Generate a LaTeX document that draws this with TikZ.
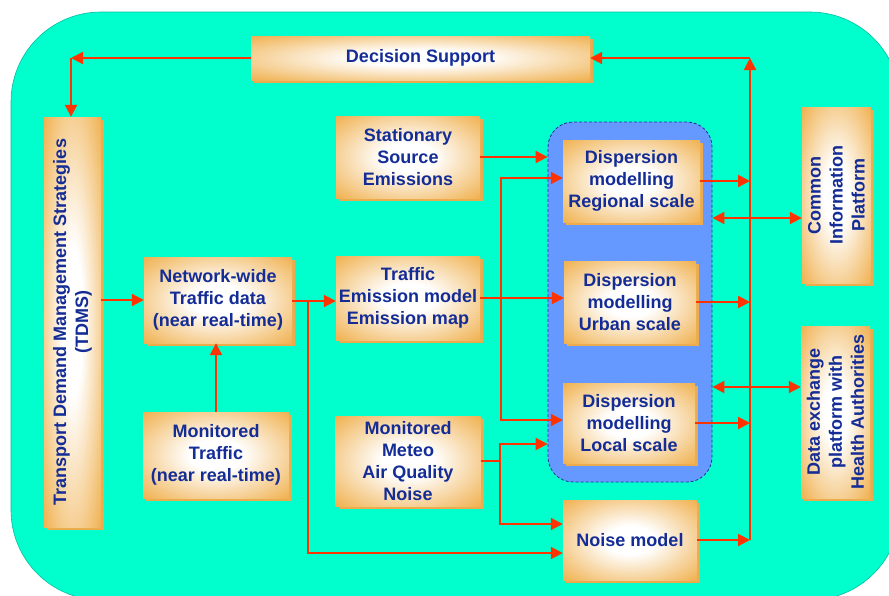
\documentclass[tikz,border=0pt]{standalone}
\usepackage{fontspec}
\setmainfont{Liberation Sans}
\usetikzlibrary{arrows.meta,shadows,calc}
\definecolor{bgcol}{RGB}{0,255,204}
\definecolor{bgline}{RGB}{0,190,165}
\definecolor{boxor}{RGB}{240,178,82}
\definecolor{boxsh}{RGB}{236,172,78}
\definecolor{txtblue}{RGB}{20,45,150}
\definecolor{arrowred}{RGB}{255,51,0}
\definecolor{grpblue}{RGB}{102,153,255}
\definecolor{grpline}{RGB}{30,50,150}
\pgfdeclareradialshading{glow}{\pgfpoint{0bp}{0bp}}{color(0bp)=(white); color(9bp)=(white); color(35bp)=(boxor); color(50bp)=(boxor)}
\begin{document}
\begin{tikzpicture}[x=1pt,y=-1pt,
  box/.style={shade, shading=glow, draw=none, text=txtblue,
    font=\fontsize{18}{22}\selectfont\bfseries, align=center, inner sep=0pt,
    drop shadow={shadow xshift=3pt,shadow yshift=-3pt,fill=boxsh,opacity=1}},
  grpbox/.style={fill=grpblue, draw=grpline, line width=0.8pt, dash pattern=on 3pt off 2pt, rounded corners=25pt},
  arrow/.style={draw=arrowred, line width=2pt, -{Triangle[length=12pt,width=12pt]}},
  darrow/.style={draw=arrowred, line width=2pt, {Triangle[length=12pt,width=12pt]}-{Triangle[length=12pt,width=12pt]}}
]
\useasboundingbox (0,0) rectangle (889,595);
\clip (0,0) rectangle (889,595);
\draw[fill=bgcol, draw=bgline, line width=0.6pt, rounded corners=90pt] (11,12) rectangle (900,600);

\node[grpbox, minimum width=164pt, minimum height=360pt] (grp) at (630,302) {};

\node[box, minimum width=339pt, minimum height=44pt] (ds) at (420.5,58) {Decision Support};
\node[box, rotate=90, minimum width=410pt, minimum height=57pt] (tdms) at (72.5,322) {Transport Demand Management Strategies\\(TDMS)};
\node[box, minimum width=148pt, minimum height=86pt] (net) at (218,300) {Network-wide\\Traffic data\\(near real-time)};
\node[box, minimum width=146pt, minimum height=86pt] (mon) at (216,455) {Monitored\\Traffic\\(near real-time)};
\node[box, minimum width=144pt, minimum height=82pt] (stat) at (408,157) {Stationary\\Source\\Emissions};
\node[box, minimum width=144pt, minimum height=84pt] (tem) at (408,298) {Traffic\\Emission model\\Emission map};
\node[box, minimum width=145pt, minimum height=90pt] (met) at (408,461) {Monitored\\Meteo\\Air Quality\\Noise};
\node[box, minimum width=137pt, minimum height=82pt] (reg) at (631.5,181) {Dispersion\\modelling\\Regional scale};
\node[box, minimum width=132pt, minimum height=82pt] (urb) at (630,302) {Dispersion\\modelling\\Urban scale};
\node[box, minimum width=132pt, minimum height=80pt] (loc) at (629,423) {Dispersion\\modelling\\Local scale};
\node[box, minimum width=134pt, minimum height=80pt] (noise) at (630,540) {Noise model};
\node[box, rotate=90, minimum width=176pt, minimum height=69pt] (cip) at (836.5,195) {Common\\Information\\Platform};
\node[box, rotate=90, minimum width=172pt, minimum height=69pt] (dex) at (835.5,412) {Data exchange\\platform with\\Health Authorities};

\coordinate (c1) at (71,58);
\coordinate (busT) at (750,58);
\coordinate (busB) at (750,540);
\coordinate (j1) at (501,178);
\coordinate (j2) at (501,420);
\coordinate (m1) at (500,461);
\coordinate (yA) at (0,444);
\coordinate (yB) at (0,524);
\coordinate (yN) at (0,553);
\coordinate (yC) at (0,218);
\coordinate (yD) at (0,387);
\coordinate (nb) at (308,301);

\draw[arrow] (ds.west) -- (c1);
\draw[arrow] (c1) -- (c1 |- tdms.east);
\draw[arrow] (busB) -- (busT);
\draw[arrow] (busT) -- (ds.east);
\draw[arrow] (tdms.south |- net.west) -- (net.west);
\draw[arrow] (mon.north) -- (mon.north |- net.south);
\draw[arrow] (net.east |- nb) -- (nb -| tem.west);
\draw[arrow] (nb) |- (yN -| noise.west);
\draw[arrow] (stat.east) -- (stat.east -| grp.west);
\draw[arrow] (tem.east) -- (tem.east -| urb.west);
\draw[arrow] (tem.east -| j1) |- (j1 -| reg.west);
\draw[arrow] (tem.east -| j1) |- (j2 -| loc.west);
\draw[arrow] (met.east) -| (m1 |- yA) -- (grp.west |- yA);
\draw[arrow] (met.east) -| (m1 |- yB) -- (noise.west |- yB);
\draw[arrow] (reg.east) -- (reg.east -| busT);
\draw[arrow] (urb.east) -- (urb.east -| busT);
\draw[arrow] (loc.east) -- (loc.east -| busT);
\draw[arrow] (noise.east) -- (busB);
\draw[darrow] (grp.east |- yC) -- (cip.north |- yC);
\draw[darrow] (grp.east |- yD) -- (dex.north |- yD);
\end{tikzpicture}
\end{document}
